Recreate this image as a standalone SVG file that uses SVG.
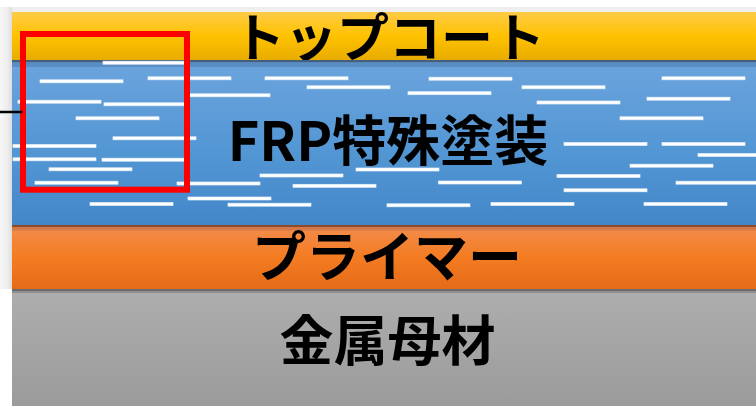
<svg xmlns="http://www.w3.org/2000/svg" xmlns:xlink="http://www.w3.org/1999/xlink" width="756" height="406" viewBox="0 0 756 406">
  <defs>
    <linearGradient id="gYellow" x1="0" y1="0" x2="0" y2="1">
      <stop offset="0" stop-color="#FFCB47"/>
      <stop offset="0.5" stop-color="#FFC200"/>
      <stop offset="1" stop-color="#E8AC00"/>
    </linearGradient>
    <linearGradient id="gBlue" x1="0" y1="0" x2="0" y2="1">
      <stop offset="0" stop-color="#6CA4DD"/>
      <stop offset="0.5" stop-color="#5598D5"/>
      <stop offset="1" stop-color="#4387C9"/>
    </linearGradient>
    <linearGradient id="gOrange" x1="0" y1="0" x2="0" y2="1">
      <stop offset="0" stop-color="#F28D4E"/>
      <stop offset="0.5" stop-color="#F47C22"/>
      <stop offset="1" stop-color="#E56B17"/>
    </linearGradient>
    <linearGradient id="gGray" x1="0" y1="0" x2="0" y2="1">
      <stop offset="0" stop-color="#AEAEAE"/>
      <stop offset="1" stop-color="#9B9B9B"/>
    </linearGradient>
    <linearGradient id="gLeft" x1="0" y1="0" x2="1" y2="0">
      <stop offset="0" stop-color="#F6F6F6"/>
      <stop offset="0.6" stop-color="#EEEEEE"/>
      <stop offset="1" stop-color="#DDDDDD"/>
    </linearGradient>
    <rect id="fiber" width="83" height="3" fill="#FFFFFF" stroke="#E4EEF9" stroke-width="0.7"/>
    <clipPath id="clipBlue"><rect x="12" y="60" width="744" height="165"/></clipPath>
  </defs>
  <style>
    .lbl { font-family: "Noto Sans CJK JP", "Noto Sans", sans-serif; font-weight: bold; font-size: 54px; fill: #000000; text-anchor: middle; }
    .top { font-size: 52px; }
  </style>

  <rect x="0" y="0" width="756" height="406" fill="#FFFFFF"/>
  <!-- subtle page shadows -->
  <rect x="0" y="7" width="756" height="5" fill="#EEEEEE"/>
  <rect x="0" y="7" width="12" height="282" fill="url(#gLeft)"/>

  <g id="topcoat">
    <rect x="12" y="12" width="744" height="48" fill="url(#gYellow)"/>
    <text class="lbl top" x="389" y="57">トップコート</text>
  </g>

  <g id="frp-coating">
    <rect x="12" y="60" width="744" height="165" fill="url(#gBlue)"/>
    <rect x="12" y="60" width="744" height="2.5" fill="#44607F"/>
    <rect x="12" y="62.5" width="744" height="4.5" fill="#5A8DC3"/>
    <g id="fibers" clip-path="url(#clipBlue)">
      <use xlink:href="#fiber" x="103" y="61.2"/>
      <use xlink:href="#fiber" x="40" y="79.8"/>
      <use xlink:href="#fiber" x="148" y="76.8"/>
      <use xlink:href="#fiber" x="265" y="76.8"/>
      <use xlink:href="#fiber" x="307" y="85.8"/>
      <use xlink:href="#fiber" x="187" y="93.8"/>
      <use xlink:href="#fiber" x="18" y="100.2"/>
      <use xlink:href="#fiber" x="104" y="102.8"/>
      <use xlink:href="#fiber" x="76" y="116.8"/>
      <use xlink:href="#fiber" x="113" y="136.8"/>
      <use xlink:href="#fiber" x="13" y="144.5"/>
      <use xlink:href="#fiber" x="13" y="157.8"/>
      <use xlink:href="#fiber" x="102" y="158.2"/>
      <use xlink:href="#fiber" x="49" y="167.8"/>
      <use xlink:href="#fiber" x="356" y="168"/>
      <use xlink:href="#fiber" x="260" y="174"/>
      <use xlink:href="#fiber" x="35" y="181.2"/>
      <use xlink:href="#fiber" x="177" y="182"/>
      <use xlink:href="#fiber" x="293" y="184.3"/>
      <use xlink:href="#fiber" x="188" y="197"/>
      <use xlink:href="#fiber" x="90" y="202.5"/>
      <use xlink:href="#fiber" x="228" y="203.2"/>
      <use xlink:href="#fiber" x="429" y="77.2"/>
      <use xlink:href="#fiber" x="662" y="76.8"/>
      <use xlink:href="#fiber" x="408" y="91.7"/>
      <use xlink:href="#fiber" x="522" y="85.8"/>
      <use xlink:href="#fiber" x="647" y="97.2"/>
      <use xlink:href="#fiber" x="537" y="101"/>
      <use xlink:href="#fiber" x="620" y="116.8"/>
      <use xlink:href="#fiber" x="564" y="142.5"/>
      <use xlink:href="#fiber" x="662" y="142.5"/>
      <use xlink:href="#fiber" x="698" y="153.5"/>
      <use xlink:href="#fiber" x="630" y="164.2"/>
      <use xlink:href="#fiber" x="557" y="174.5"/>
      <use xlink:href="#fiber" x="438.5" y="181"/>
      <use xlink:href="#fiber" x="676" y="181.2"/>
      <use xlink:href="#fiber" x="564" y="188.8"/>
      <use xlink:href="#fiber" x="387" y="203.8"/>
      <use xlink:href="#fiber" x="491" y="202.5"/>
      <use xlink:href="#fiber" x="644" y="202.5"/>
    </g>
    <text class="lbl" x="388" y="160.5">FRP特殊塗装</text>
  </g>

  <g id="primer">
    <rect x="12" y="225" width="744" height="64" fill="url(#gOrange)"/>
    <rect x="12" y="225" width="744" height="2" fill="#8C4C2C"/>
    <rect x="12" y="227" width="744" height="3.5" fill="#C8734A" opacity="0.75"/>
    <text class="lbl" x="387" y="277">プライマー</text>
  </g>

  <g id="base-metal">
    <rect x="12" y="289" width="744" height="117" fill="url(#gGray)"/>
    <rect x="12" y="289" width="744" height="2" fill="#6A6A6A"/>
    <rect x="12" y="291" width="744" height="2" fill="#8F8F8F"/>
    <text class="lbl" x="387.5" y="361">金属母材</text>
  </g>

  <g id="highlight">
    <rect x="23" y="34" width="164" height="155.7" fill="none" stroke="#FF0000" stroke-width="6"/>
  </g>

  <g id="connectors">
    <line x1="0" y1="112" x2="22.5" y2="112" stroke="#000000" stroke-width="2.5"/>
  </g>
</svg>
